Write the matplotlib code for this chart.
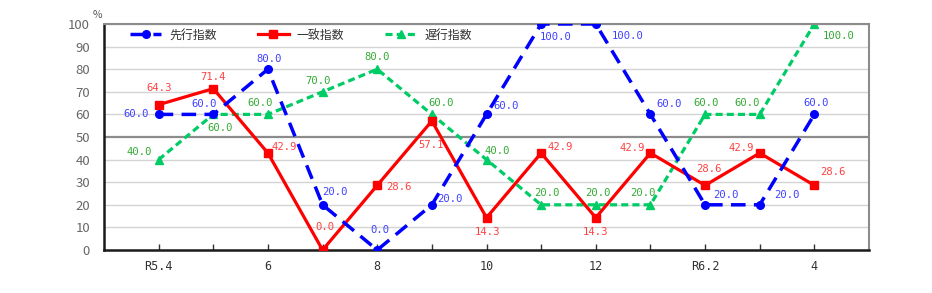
import matplotlib
matplotlib.use('Agg')
import matplotlib.pyplot as plt
import numpy as np

plt.rcParams['font.family'] = ['Noto Sans CJK JP', 'DejaVu Sans']

# ── Data ──────────────────────────────────────────────────────────────────
months = ['R5.4', '5', '6', '7', '8', '9', '10', '11', '12', 'R6.1', 'R6.2', '3', '4']
tick_labels = ['R5.4', '', '6', '', '8', '', '10', '', '12', '', 'R6.2', '', '4']
leading = [60.0, 60.0, 80.0, 20.0, 0.0, 20.0, 60.0, 100.0, 100.0, 60.0, 20.0, 20.0, 60.0]
coincident = [64.3, 71.4, 42.9, 0.0, 28.6, 57.1, 14.3, 42.9, 14.3, 42.9, 28.6, 42.9, 28.6]
lagging = [40.0, 60.0, 60.0, 70.0, 80.0, 60.0, 40.0, 20.0, 20.0, 20.0, 60.0, 60.0, 100.0]

# label offsets in pixels (dx, dy), y up
off_lead = [(-23, 0), (-9, 10), (1, 10), (12, 13), (3, 20), (18, 6), (20, 8),
            (15, -13), (32, -12), (19, 10), (21, 10), (27, 10), (2, 11)]
off_coin = [(0, 17), (0, 12), (16, 6), (2, 23), (22, -2), (-1, -24), (1, -14),
            (19, 6), (0, -14), (-18, 5), (4, 16), (-18, 5), (19, 13)]
off_lag = [(-19, 8), (7, -14), (-8, 11), (-5, 11), (0, 12), (9, 11), (11, 9),
           (6, 12), (2, 12), (-7, 12), (1, 11), (-13, 11), (24, -12)]

fig = plt.figure(figsize=(9.32, 2.93), dpi=100)
ax = fig.add_axes([104 / 932, 43 / 293, 765 / 932, 226 / 293])

x = np.arange(len(months))

# grid
for v in range(10, 101, 10):
    if v == 50:
        ax.axhline(v, color='#8c8c8c', lw=1.6, zorder=1)
    else:
        ax.axhline(v, color='#d4d4d4', lw=1.0, zorder=1)

ax.plot(x, leading, color='#0000ff', lw=2.5, ls=(0, (4.2, 2.4)),
        marker='o', ms=5.5, label='先行指数', zorder=4)
ax.plot(x, coincident, color='#ff0000', lw=2.3, ls='-',
        marker='s', ms=5.2, label='一致指数', zorder=3)
ax.plot(x, lagging, color='#00cc66', lw=2.3, ls=(0, (2.2, 1.3)),
        marker='^', ms=5.5, label='遅行指数', zorder=2)

lab_font = dict(family=['DejaVu Sans Mono'], fontsize=7.6, ha='center', va='center')
for vals, offs, col in [(leading, off_lead, '#4040ff'),
                        (coincident, off_coin, '#ff4040'),
                        (lagging, off_lag, '#33aa33')]:
    for i, (v, (dx, dy)) in enumerate(zip(vals, offs)):
        ax.annotate(f'{v:.1f}', (i, v), xytext=(dx * 0.72, dy * 0.72),
                    textcoords='offset points', color=col, zorder=6, **lab_font)

ax.set_xlim(-1, 13)
ax.set_ylim(0, 100)
ax.set_yticks(range(0, 101, 10))
ax.set_xticks(x)
ax.set_xticklabels(tick_labels, family=['DejaVu Sans Mono'], fontsize=8.5, color='#333333')
ax.tick_params(axis='x', direction='in', length=4, width=1, pad=7, color='#333333')
ax.tick_params(axis='y', length=0, pad=10, labelsize=9.5, labelcolor='#666666')

for s in ['left', 'bottom']:
    ax.spines[s].set_color('#1a1a1a')
    ax.spines[s].set_linewidth(1.8)
for s in ['top', 'right']:
    ax.spines[s].set_color('#8c8c8c')
    ax.spines[s].set_linewidth(1.5)

fig.text(97 / 932, 1 - 15 / 293, '%', fontsize=7.5, color='#555555', ha='center', va='center')

ax.legend(loc='center left', bbox_to_anchor=(0.034, 0.951), ncol=3, frameon=False,
          borderpad=0, borderaxespad=0, handlelength=2.6, handletextpad=0.7,
          columnspacing=3.4, numpoints=1, fontsize=8.6, labelcolor='#333333')

fig.savefig('out.png', dpi=100)
